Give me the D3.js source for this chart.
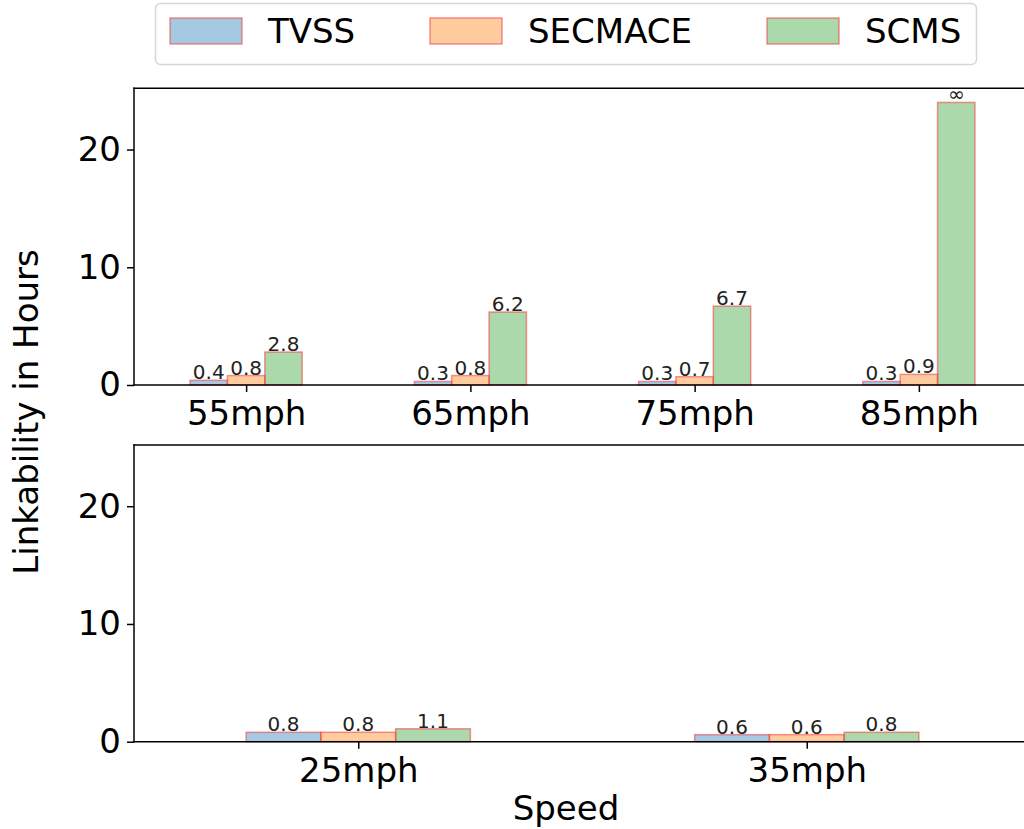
<!DOCTYPE html>
<html>
<head>
<meta charset="utf-8">
<script src="https://cdn.jsdelivr.net/npm/d3@7"></script>
<style>
  body { margin: 0; background: #fff; }
  svg { display: block; font-family: "DejaVu Sans", sans-serif; }
</style>
</head>
<body>
<div id="chart"></div>
<script>
// data
const seriesNames = ["TVSS", "SECMACE", "SCMS"];
const highSpeeds = ["55mph", "65mph", "75mph", "85mph"];
const highTVSS = [0.4, 0.3, 0.3, 0.3];
const highSECMACE = [0.8, 0.8, 0.7, 0.9];
const highSCMS = [2.8, 6.2, 6.7, 24];   // 85mph is drawn capped, labelled ∞
const highSCMSInfinite = [false, false, false, true];
const lowSpeeds = ["25mph", "35mph"];
const lowTVSS = [0.8, 0.6];
const lowSECMACE = [0.8, 0.6];
const lowSCMS = [1.1, 0.8];
const yTicks = [0, 10, 20];

const fills = ["rgba(31,119,180,0.4)", "rgba(255,127,14,0.4)", "rgba(44,160,44,0.4)"];
const edge = "rgba(240,60,60,0.55)";

const W = 1024, H = 829;
const svg = d3.select("#chart").append("svg").attr("width", W).attr("height", H);

const plotLeft = 134, plotRight = 1031;
const yMax = 25.2;
const barW = 0.5 / 3;
const fontBig = 34;

function drawPanel(top, bottom, cats, series, infinite) {
    const x = d3.scaleLinear().domain([-0.5, cats.length - 0.5]).range([plotLeft, plotRight]);
    const y = d3.scaleLinear().domain([0, yMax]).range([bottom, top]);
    const g = svg.append("g");

    series.forEach((vals, j) => {
        const off = (j - 1) * barW - barW / 2;
        g.selectAll(null)
            .data(vals)
            .join("rect")
            .attr("x", (d, i) => x(i + off))
            .attr("y", d => y(d))
            .attr("width", x(barW) - x(0))
            .attr("height", d => y(0) - y(d))
            .attr("fill", fills[j])
            .attr("stroke", edge)
            .attr("stroke-width", 1.5);

        g.selectAll(null)
            .data(vals)
            .join("text")
            .attr("x", (d, i) => x(i + off + barW / 2))
            .attr("y", d => y(d) - 1)
            .attr("text-anchor", "middle")
            .attr("font-size", 20)
            .attr("fill", "#222")
            .text((d, i) => (j === 2 && infinite && infinite[i]) ? "∞" : d.toFixed(1));
    });

    // x axis
    const xa = g.append("g")
        .attr("transform", `translate(0,${bottom})`)
        .call(d3.axisBottom(x).tickValues(d3.range(cats.length)).tickFormat(i => cats[i]).tickSize(7).tickPadding(9));
    xa.select(".domain").remove();
    xa.selectAll("text").attr("font-size", fontBig).attr("fill", "#000").attr("font-family", "DejaVu Sans");
    xa.selectAll("line").attr("stroke", "#000").attr("stroke-width", 1.5);

    // y axis
    const ya = g.append("g")
        .attr("transform", `translate(${plotLeft},0)`)
        .call(d3.axisLeft(y).tickValues(yTicks).tickSize(7).tickPadding(6));
    ya.select(".domain").remove();
    ya.selectAll("text").attr("font-size", fontBig).attr("fill", "#000").attr("font-family", "DejaVu Sans");
    ya.selectAll("line").attr("stroke", "#000").attr("stroke-width", 1.5);

    // spines
    const sp = [[plotLeft, top, plotLeft, bottom], [plotLeft, top, plotRight, top], [plotLeft, bottom, plotRight, bottom], [plotRight, top, plotRight, bottom]];
    g.selectAll(null).data(sp).join("line")
        .attr("x1", d => d[0]).attr("y1", d => d[1]).attr("x2", d => d[2]).attr("y2", d => d[3])
        .attr("stroke", "#000").attr("stroke-width", 1.5).attr("stroke-linecap", "square");
}

drawPanel(88.3, 385, highSpeeds, [highTVSS, highSECMACE, highSCMS], highSCMSInfinite);
drawPanel(445, 741.7, lowSpeeds, [lowTVSS, lowSECMACE, lowSCMS], null);

// axis labels
svg.append("text")
    .attr("transform", "translate(38,412) rotate(-90)")
    .attr("text-anchor", "middle")
    .attr("font-size", fontBig)
    .text("Linkability in Hours");
svg.append("text")
    .attr("x", 566).attr("y", 820)
    .attr("text-anchor", "middle")
    .attr("font-size", fontBig)
    .text("Speed");

// legend
const legend = svg.append("g");
legend.append("rect")
    .attr("x", 155.5).attr("y", 3.5).attr("width", 821).attr("height", 61).attr("rx", 5)
    .attr("fill", "#fff").attr("stroke", "#d6d6d6").attr("stroke-width", 1.5);
const legX = [170, 430, 767];
const item = legend.selectAll(null).data(seriesNames).join("g")
    .attr("transform", (d, i) => `translate(${legX[i]},18)`);
item.append("rect")
    .attr("width", 72).attr("height", 26)
    .attr("fill", (d, i) => fills[i]).attr("stroke", edge).attr("stroke-width", 1.5);
item.append("text")
    .attr("x", 98).attr("y", 13).attr("dy", "0.35em")
    .attr("font-size", fontBig)
    .text(d => d);
</script>
</body>
</html>
